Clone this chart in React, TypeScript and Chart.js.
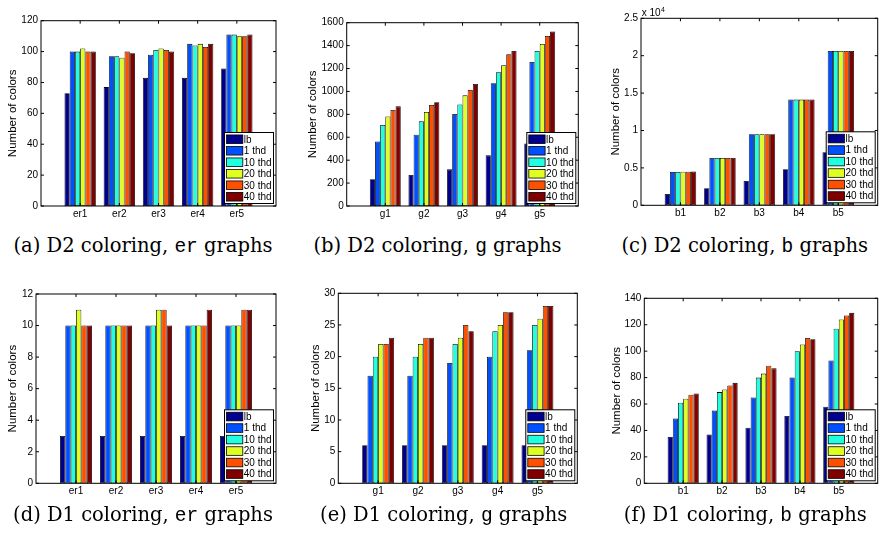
import React, { useEffect, useRef } from 'react';
import { Chart, registerables } from 'chart.js';
Chart.register(...registerables);

// ---------- data ----------
const seriesNames = ['lb', '1 thd', '10 thd', '20 thd', '30 thd', '40 thd'];
const seriesColors = ['#00008F', '#0050FF', '#20FFDF', '#DFFF20', '#FF5000', '#800000'];

const erCategories = ['er1', 'er2', 'er3', 'er4', 'er5'];
const gCategories = ['g1', 'g2', 'g3', 'g4', 'g5'];
const bCategories = ['b1', 'b2', 'b3', 'b4', 'b5'];

// series-major: [lb, 1 thd, 10 thd, 20 thd, 30 thd, 40 thd]
const d2Er = [
  [73, 77, 83, 83, 89],
  [100, 97, 98, 105, 111],
  [100, 97, 101, 104, 111],
  [102, 96, 102, 105, 110],
  [100, 100, 101, 103, 110],
  [100, 99, 100, 105, 111],
];
const d2G = [
  [233, 270, 320, 442, 545],
  [564, 622, 803, 1071, 1257],
  [707, 739, 887, 1167, 1353],
  [782, 820, 966, 1228, 1414],
  [838, 881, 1012, 1324, 1484],
  [870, 905, 1065, 1353, 1524],
];
const d2B = [
  [1515, 2270, 3250, 4810, 7090],
  [4460, 6330, 9490, 14130, 20630],
  [4460, 6330, 9490, 14130, 20630],
  [4480, 6330, 9490, 14130, 20630],
  [4500, 6330, 9490, 14130, 20630],
  [4530, 6340, 9490, 14130, 20630],
];
const d1Er = [
  [3, 3, 3, 3, 3],
  [10, 10, 10, 10, 10],
  [10, 10, 10, 10, 10],
  [11, 10, 11, 10, 10],
  [10, 10, 11, 10, 11],
  [10, 10, 10, 11, 11],
];
const d1G = [
  [6, 6, 6, 6, 6],
  [17, 17, 19, 20, 21],
  [20, 20, 22, 24, 25],
  [22, 22, 23, 25, 26],
  [22, 23, 25, 27, 28],
  [23, 23, 24, 27, 28],
];
const d1B = [
  [35, 37, 42, 51, 58],
  [49, 55, 65, 80, 93],
  [61, 69, 80, 100, 117],
  [64, 71, 83, 105, 124],
  [67, 74, 89, 110, 127],
  [68, 76, 87, 109, 129],
];

const d2ErYTicks = [0, 20, 40, 60, 80, 100, 120];
const d2GYTicks = [0, 200, 400, 600, 800, 1000, 1200, 1400, 1600];
const d2BYTicks = [0, 5000, 10000, 15000, 20000, 25000];
const d1ErYTicks = [0, 2, 4, 6, 8, 10, 12];
const d1GYTicks = [0, 5, 10, 15, 20, 25, 30];
const d1BYTicks = [0, 20, 40, 60, 80, 100, 120, 140];

const yTitle = 'Number of colors';

// ---------- layout ----------
type Box = { l: number; t: number; r: number; b: number };
type Panel = {
  cats: string[];
  data: number[][];
  yTicks: number[];
  box: Box;
  titleX: number;
  scale10k?: boolean;
};

const panels: Panel[] = [
  { cats: erCategories, data: d2Er, yTicks: d2ErYTicks, box: { l: 41, t: 20.7, r: 276, b: 206 }, titleX: 13.3 },
  { cats: gCategories, data: d2G, yTicks: d2GYTicks, box: { l: 346.7, t: 22.7, r: 578.3, b: 206 }, titleX: 313.3 },
  { cats: bCategories, data: d2B, yTicks: d2BYTicks, box: { l: 641, t: 18.3, r: 877.7, b: 205.3 }, titleX: 616, scale10k: true },
  { cats: erCategories, data: d1Er, yTicks: d1ErYTicks, box: { l: 36, t: 294, r: 276, b: 483.3 }, titleX: 13.3 },
  { cats: gCategories, data: d1G, yTicks: d1GYTicks, box: { l: 338.3, t: 293.3, r: 577.3, b: 483.3 }, titleX: 316 },
  { cats: bCategories, data: d1B, yTicks: d1BYTicks, box: { l: 644.3, t: 298.3, r: 877.7, b: 483.3 }, titleX: 616.7 },
];

const captions = [
  { pre: '(a) D2 coloring, ', mono: 'er', cx: 143, top: 236 },
  { pre: '(b) D2 coloring, ', mono: 'g', cx: 437.5, top: 236 },
  { pre: '(c) D2 coloring, ', mono: 'b', cx: 744.7, top: 236 },
  { pre: '(d) D1 coloring, ', mono: 'er', cx: 143, top: 505 },
  { pre: '(e) D1 coloring, ', mono: 'g', cx: 443.7, top: 505 },
  { pre: '(f) D1 coloring, ', mono: 'b', cx: 745.3, top: 505 },
];

const FONT = "'Liberation Sans', Arial, Helvetica, sans-serif";

// ---------- plugins ----------
const framePlugin = {
  id: 'matlabFrame',
  afterDatasetsDraw(chart: any, _args: any, opts: any) {
    const { ctx, chartArea } = chart;
    const { left, top, right, bottom } = chartArea;
    const xs = chart.scales.x;
    const ys = chart.scales.y;
    const tl = 3;
    ctx.save();
    ctx.strokeStyle = '#000';
    ctx.lineWidth = 1;
    ctx.beginPath();
    ys.ticks.forEach((t: any) => {
      const py = ys.getPixelForValue(t.value);
      ctx.moveTo(left, py);
      ctx.lineTo(left + tl, py);
      ctx.moveTo(right, py);
      ctx.lineTo(right - tl, py);
    });
    const labels = chart.data.labels as string[];
    labels.forEach((lab: string, i: number) => {
      if (!lab) return;
      const px = xs.getPixelForValue(i);
      ctx.moveTo(px, top);
      ctx.lineTo(px, top + tl);
      ctx.moveTo(px, bottom);
      ctx.lineTo(px, bottom - tl);
    });
    ctx.stroke();
    ctx.strokeRect(left, top, right - left, bottom - top);
    if (opts && opts.scale10k) {
      ctx.fillStyle = '#000';
      ctx.textBaseline = 'middle';
      ctx.textAlign = 'left';
      ctx.font = `10px ${FONT}`;
      const x0 = left + 0.7;
      ctx.fillText('x 10', x0, top - 5);
      const w = ctx.measureText('x 10').width;
      ctx.font = `7px ${FONT}`;
      ctx.fillText('4', x0 + w + 0.5, top - 8.5);
    }
    ctx.restore();
  },
};

const boxLegendPlugin = {
  id: 'boxLegend',
  afterDraw(chart: any) {
    const { ctx, chartArea } = chart;
    const ds = chart.data.datasets;
    const rowH = 11.5;
    const w = 49;
    const h = ds.length * rowH + 2;
    const x = chartArea.right - 2.5 - w;
    const y = chartArea.bottom - 2.5 - h;
    ctx.save();
    ctx.fillStyle = '#fff';
    ctx.fillRect(x, y, w, h);
    ctx.strokeStyle = '#000';
    ctx.lineWidth = 1;
    ctx.strokeRect(x, y, w, h);
    ctx.font = `10px ${FONT}`;
    ctx.textBaseline = 'middle';
    ctx.textAlign = 'left';
    ds.forEach((d: any, i: number) => {
      const cy = y + 1 + rowH * (i + 0.5);
      ctx.fillStyle = d.backgroundColor;
      ctx.fillRect(x + 2, cy - 4.3, 16.3, 8.6);
      ctx.lineWidth = 0.8;
      ctx.strokeStyle = '#000';
      ctx.strokeRect(x + 2, cy - 4.3, 16.3, 8.6);
      ctx.fillStyle = '#000';
      ctx.fillText(d.label, x + 19.3, cy + 0.5);
    });
    ctx.restore();
  },
};

// ---------- components ----------
function BarPanel({ p }: { p: Panel }) {
  const ref = useRef<HTMLCanvasElement | null>(null);
  const { l, t, r, b } = p.box;
  const cl = Math.floor(p.titleX - 12);
  const ct = Math.floor(t - 12);
  const cw = Math.ceil(r - cl + 4);
  const ch = Math.ceil(b - ct + 22);
  const yw = l - cl;
  const xh = ch - (b - ct);
  const padTop = t - ct;
  const padRight = cw - (r - cl);
  const titleSize = 11.5;
  const titleLH = titleSize * 1.2;
  const titlePad = p.titleX - cl - titleLH / 2;

  useEffect(() => {
    if (!ref.current) return;
    const labels = ['', ...p.cats, ''];
    const yMax = p.yTicks[p.yTicks.length - 1];
    const chart = new Chart(ref.current, {
      type: 'bar',
      data: {
        labels,
        datasets: p.data.map((vals, i) => ({
          label: seriesNames[i],
          data: [null, ...vals, null],
          backgroundColor: seriesColors[i],
          borderColor: '#000',
          borderWidth: 0.8,
          borderSkipped: false,
          categoryPercentage: 0.8,
          barPercentage: 1.0,
        })),
      },
      options: {
        responsive: false,
        animation: false,
        events: [],
        layout: { padding: { top: padTop, right: padRight, left: 0, bottom: 0 } },
        plugins: {
          legend: { display: false },
          tooltip: { enabled: false },
          title: { display: false },
          matlabFrame: { scale10k: !!p.scale10k },
        } as any,
        scales: {
          x: {
            type: 'category',
            offset: false,
            grid: { display: false, drawTicks: false },
            border: { display: false },
            ticks: {
              autoSkip: false,
              maxRotation: 0,
              minRotation: 0,
              padding: 2,
              color: '#000',
              font: { family: FONT, size: 10 },
            },
            afterFit: (s: any) => {
              s.height = xh;
            },
          },
          y: {
            type: 'linear',
            min: 0,
            max: yMax,
            grid: { display: false, drawTicks: false },
            border: { display: false },
            ticks: {
              padding: 3,
              color: '#000',
              font: { family: FONT, size: 10 },
              callback: (v: any) => (p.scale10k ? String(Number(v) / 10000) : String(v)),
            },
            afterBuildTicks: (s: any) => {
              s.ticks = p.yTicks.map((v) => ({ value: v }));
            },
            afterFit: (s: any) => {
              s.width = yw;
            },
            title: {
              display: true,
              text: yTitle,
              color: '#000',
              font: { family: FONT, size: titleSize, lineHeight: 1.2 },
              padding: { top: titlePad, bottom: 0 },
            },
          },
        },
      },
      plugins: [framePlugin, boxLegendPlugin],
    });
    return () => chart.destroy();
  }, []);

  return (
    <canvas
      ref={ref}
      width={cw}
      height={ch}
      style={{ position: 'absolute', left: cl, top: ct, width: cw, height: ch }}
    />
  );
}

export default function App() {
  return (
    <div
      style={{
        position: 'absolute',
        left: 0,
        top: 0,
        width: 881,
        height: 534,
        background: '#fff',
        overflow: 'hidden',
      }}
    >
      {panels.map((p, i) => (
        <BarPanel key={i} p={p} />
      ))}
      {captions.map((c, i) => (
        <div
          key={'c' + i}
          style={{
            position: 'absolute',
            left: c.cx - 200,
            top: c.top,
            width: 400,
            textAlign: 'center',
            whiteSpace: 'nowrap',
            fontFamily: "'DejaVu Serif', 'Liberation Serif', serif",
            fontSize: 19.5,
            lineHeight: '20px',
            color: '#000',
          }}
        >
          {c.pre}
          <span style={{ fontFamily: "'Liberation Mono', 'DejaVu Sans Mono', monospace", fontSize: 19.5 }}>
            {c.mono}
          </span>
          {' graphs'}
        </div>
      ))}
    </div>
  );
}
